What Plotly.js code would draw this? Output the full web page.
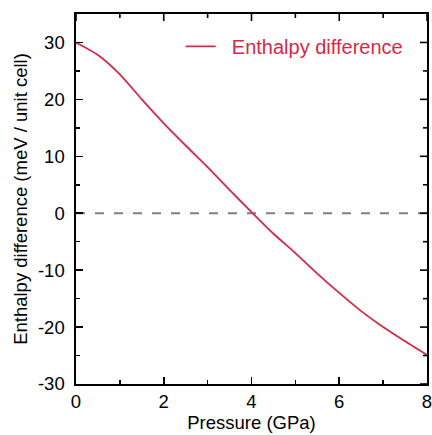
<!DOCTYPE html>
<html>
<head>
<meta charset="utf-8">
<script src="https://cdn.plot.ly/plotly-3.0.1.min.js"></script>
<style>html,body{margin:0;padding:0;background:#fff;}#chart{width:432px;height:435px;}</style>
</head>
<body>
<div id="chart"></div>
<script>
const pressure = [0, 0.5, 1.0, 1.5, 2.0, 2.5, 3.0, 3.5, 4.0, 4.5, 5.0, 5.5, 6.0, 6.5, 7.0, 7.5, 8.0];
const enthalpyDiff = [30.0, 27.8, 24.4, 20.0, 15.8, 11.9, 8.1, 4.1, 0.2, -3.6, -7.0, -10.6, -14.0, -17.2, -20.0, -22.5, -24.9];
const zeroX = [0, 8];
const zeroY = [0, 0];
const seriesName = 'Enthalpy difference';
const xTitle = 'Pressure (GPa)';
const yTitle = 'Enthalpy difference (meV / unit cell)';
const xMajorTicks = [0, 2, 4, 6, 8];
const xMajorLabels = ['0', '2', '4', '6', '8'];
const xMinorTicks = [1, 3, 5, 7];
const yMajorTicks = [-30, -20, -10, 0, 10, 20, 30];
const yMajorLabels = ['-30', '-20', '-10', '0', '10', '20', '30'];
const yMinorTicks = [-25, -15, -5, 5, 15, 25];

const red = 'rgb(215,40,70)';
const font = 'Liberation Sans, Arial, sans-serif';
const fs = 18.5;
const xRange = [0, 8];
const yRange = [-30, 35];

const traces = [
  {x: zeroX, y: zeroY, mode: 'lines', showlegend: false, hoverinfo: 'skip',
   line: {color: 'rgb(128,128,128)', width: 2, dash: '9px,10px'}},
  {x: pressure, y: enthalpyDiff, mode: 'lines', name: '\u00a0\u00a0' + seriesName,
   line: {color: red, width: 1.8, shape: 'spline', smoothing: 0.6}},
  {x: zeroX, y: zeroY, xaxis: 'x2', yaxis: 'y2', mode: 'lines', showlegend: false, hoverinfo: 'skip',
   line: {color: 'rgba(0,0,0,0)', width: 0}}
];

const base = {
  showgrid: false, zeroline: false, tickmode: 'array', fixedrange: true,
  ticks: 'inside', tickwidth: 1.6, tickcolor: 'black',
  tickfont: {family: font, size: fs, color: 'black'}
};
const frame = {showline: true, linecolor: 'black', linewidth: 1.6, mirror: true};

// Tick marks on the top and right frame edges, built from the tick arrays.
const tickLine = {color: 'black', width: 1.6};
const shapes = [];
xMajorTicks.concat(xMinorTicks).forEach(function (v) {
  const len = xMajorTicks.indexOf(v) >= 0 ? 7 : 4;
  shapes.push({type: 'line', layer: 'above', xref: 'x', x0: v, x1: v,
    yref: 'paper', ysizemode: 'pixel', yanchor: 1, y0: 0, y1: -len, line: tickLine});
});
yMajorTicks.concat(yMinorTicks).forEach(function (v) {
  const len = yMajorTicks.indexOf(v) >= 0 ? 7 : 4;
  shapes.push({type: 'line', layer: 'above', yref: 'y', y0: v, y1: v,
    xref: 'paper', xsizemode: 'pixel', xanchor: 1, x0: 0, x1: -len, line: tickLine});
});

const layout = {
  width: 432, height: 435,
  margin: {l: 76, r: 5, t: 14, b: 51},
  paper_bgcolor: 'white', plot_bgcolor: 'white',
  font: {family: font, color: 'black'},
  xaxis: Object.assign({}, base, frame, {
    range: xRange, tickvals: xMajorTicks, ticktext: xMajorLabels, ticklen: 7, ticklabeloverflow: 'allow',
    title: {text: xTitle, font: {family: font, size: fs, color: 'black'}, standoff: 2}
  }),
  yaxis: Object.assign({}, base, frame, {
    range: yRange, tickvals: yMajorTicks, ticktext: yMajorLabels, ticklen: 7, ticklabelstandoff: 6,
    title: {text: yTitle, font: {family: font, size: fs, color: 'black'}, standoff: 5}
  }),
  xaxis2: Object.assign({}, base, {overlaying: 'x', range: xRange, tickvals: xMinorTicks, ticklen: 4,
    showticklabels: false, showline: false}),
  yaxis2: Object.assign({}, base, {overlaying: 'y', range: yRange, tickvals: yMinorTicks, ticklen: 4,
    showticklabels: false, showline: false}),
  shapes: shapes,
  legend: {x: 0.945, y: 0.965, xanchor: 'right', yanchor: 'top', bgcolor: 'rgba(0,0,0,0)',
           font: {family: font, size: 20, color: red}},
  showlegend: true
};

Plotly.newPlot('chart', traces, layout, {staticPlot: true, displayModeBar: false});
</script>
</body>
</html>
